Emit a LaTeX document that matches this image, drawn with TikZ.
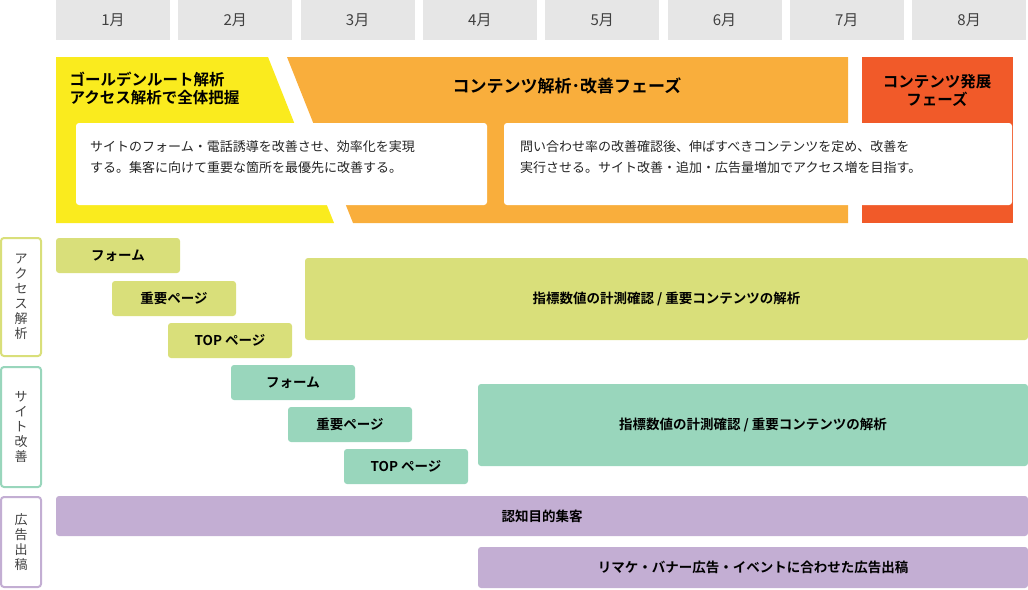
\documentclass[tikz,border=0pt]{standalone}
\usepackage{fontspec}
\setmainfont{Noto Sans CJK JP}
\newfontfamily\jpbold{Noto Sans CJK JP Bold}
\definecolor{monthgray}{HTML}{E6E6E6}
\definecolor{phaseyellow}{HTML}{FAEB1E}
\definecolor{phaseorange}{HTML}{F9AE3C}
\definecolor{phasered}{HTML}{F15A29}
\definecolor{accessgreen}{HTML}{D9DF7A}
\definecolor{siteteal}{HTML}{99D6BC}
\definecolor{adpurple}{HTML}{C3AED3}
\tikzset{
  month/.style={fill=monthgray,minimum width=114pt,minimum height=40pt,inner sep=0pt,
    font=\fontsize{15}{15}\selectfont,text=black!75},
  bar/.style={fill=#1,rounded corners=3pt,inner sep=0pt,font=\jpbold\fontsize{13.5}{14}\selectfont},
  sidebox/.style={draw=#1,line width=2pt,rounded corners=3pt,fill=white,inner sep=0pt,
    minimum width=40pt,font=\fontsize{13}{15}\selectfont,text=black!75,align=center},
  descbox/.style={fill=white,rounded corners=3pt,inner sep=0pt,align=left,
    font=\fontsize{13}{21}\selectfont,text=black!85}
}
\begin{document}
\begin{tikzpicture}[x=1pt,y=-1pt]
  \useasboundingbox (0,0) rectangle (1028,589);
  % months
  \foreach \m in {1,...,8}
    \node[month] (m\m) at ({113+(\m-1)*122.3},20) {\m 月};
  % phases
  \fill[phaseyellow] (56,57) -- (268,57) -- (334,223) -- (56,223) -- cycle;
  \fill[phaseorange] (287,57) -- (848,57) -- (848,223) -- (353,223) -- cycle;
  \fill[phasered] (862,57) rectangle (1013,223);
  \node[font=\jpbold\fontsize{15.5}{18}\selectfont,align=left,anchor=north west] (ph1) at (66,68)
    {ゴールデンルート解析\\アクセス解析で全体把握};
  \node[font=\jpbold\fontsize{17}{18}\selectfont] (ph2) at (567,86) {コンテンツ解析･改善フェーズ};
  \node[font=\jpbold\fontsize{15.5}{18}\selectfont,align=center] (ph3) at (937,90)
    {コンテンツ発展\\フェーズ};
  \path[descbox] (76,123) rectangle (487,205);
  \path[descbox] (504,123) rectangle (1012,205);
  \node[descbox,anchor=north west] (d1) at (90,140)
    {サイトのフォーム・電話誘導を改善させ、効率化を実現\\する。集客に向けて重要な箇所を最優先に改善する。};
  \node[descbox,anchor=north west] (d2) at (520,140)
    {問い合わせ率の改善確認後、伸ばすべきコンテンツを定め、改善を\\実行させる。サイト改善・追加・広告量増加でアクセス増を目指す。};
  % side labels
  \node[sidebox=accessgreen,minimum height=118pt] (s1) at (21,297) {ア\\ク\\セ\\ス\\解\\析};
  \node[sidebox=siteteal,minimum height=120pt] (s2) at (21,427) {サ\\イ\\ト\\改\\善};
  \node[sidebox=adpurple,minimum height=90pt] (s3) at (21,542) {広\\告\\出\\稿};
  % access bars
  \path[bar=accessgreen] (56,238) rectangle (180,273) node[midway] (a1) {フォーム};
  \path[bar=accessgreen] (112,281) rectangle (236,316) node[midway] (a2) {重要ページ};
  \path[bar=accessgreen] (168,323) rectangle (292,358) node[midway] (a3) {TOP ページ};
  \path[bar=accessgreen] (305,258) rectangle (1028,340) node[midway] (a4) {指標数値の計測確認 / 重要コンテンツの解析};
  % site bars
  \path[bar=siteteal] (231,365) rectangle (355,400) node[midway] (b1) {フォーム};
  \path[bar=siteteal] (288,407) rectangle (412,442) node[midway] (b2) {重要ページ};
  \path[bar=siteteal] (344,449) rectangle (468,484) node[midway] (b3) {TOP ページ};
  \path[bar=siteteal] (478,384) rectangle (1028,466) node[midway] (b4) {指標数値の計測確認 / 重要コンテンツの解析};
  % ad bars
  \path[bar=adpurple] (56,496) rectangle (1028,536) node[midway] (c1) {認知目的集客};
  \path[bar=adpurple] (478,547) rectangle (1028,588) node[midway] (c2) {リマケ・バナー広告・イベントに合わせた広告出稿};
\end{tikzpicture}
\end{document}
